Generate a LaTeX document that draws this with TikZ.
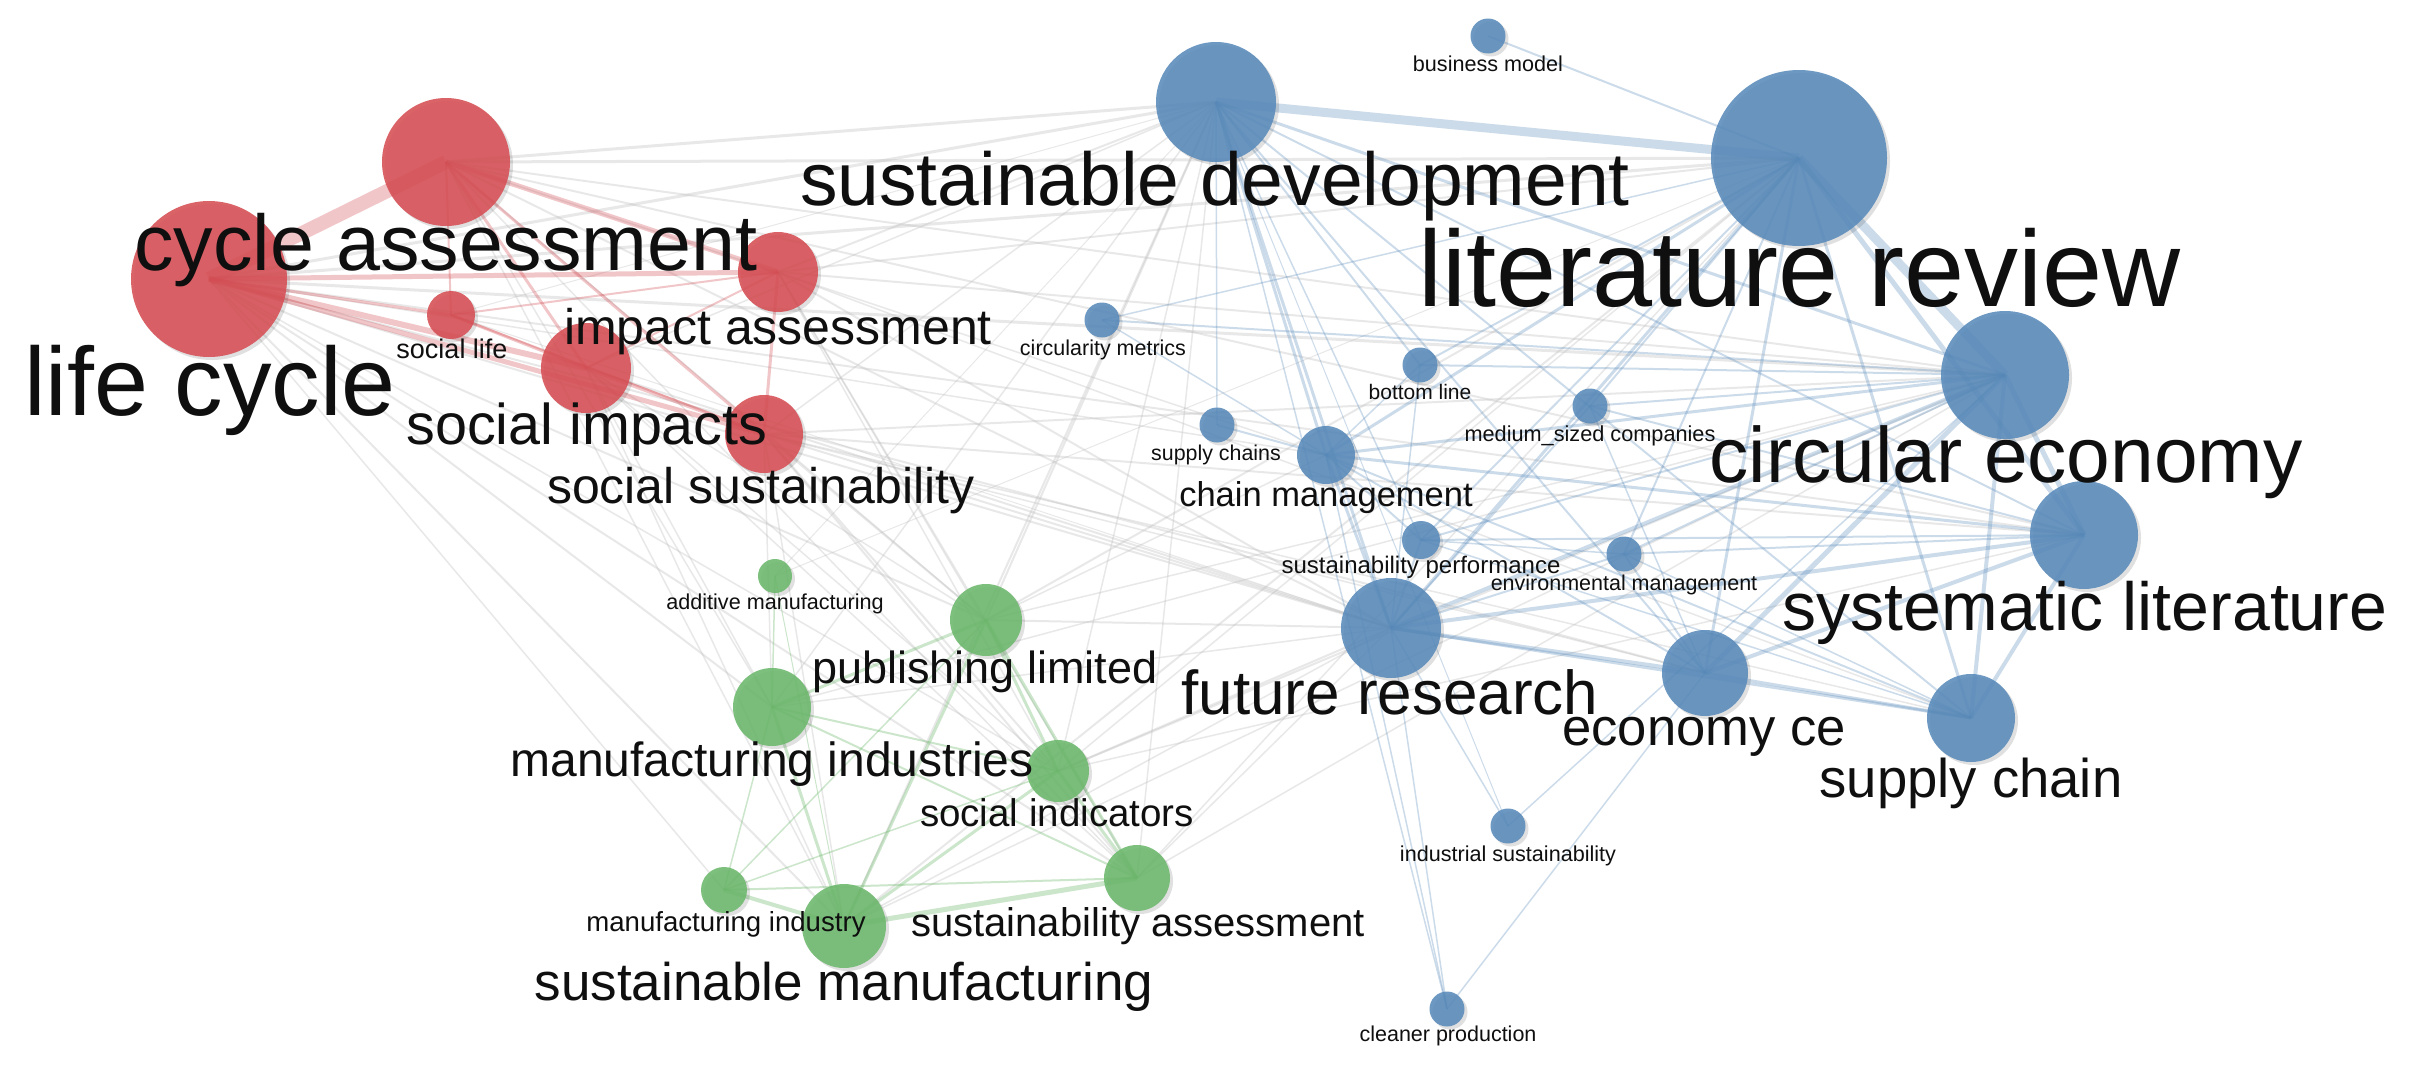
\documentclass[tikz,border=0pt]{standalone}
\usepackage{fontspec}
\setmainfont{Liberation Sans}
\usetikzlibrary{shadows}
\definecolor{cred}{RGB}{214,78,84}
\definecolor{cblue}{RGB}{88,138,186}
\definecolor{cgreen}{RGB}{108,184,108}
\definecolor{cgray}{RGB}{190,190,190}
\definecolor{ctext}{RGB}{15,15,15}
\newcommand{\lbl}[4]{\node[lab, font=\fontsize{#3}{#3}\selectfont] (#1) at #2 {#4};}
\begin{document}
\begin{tikzpicture}[x=1pt,y=-1pt,
  bub/.style={circle, inner sep=0pt, draw=none, fill opacity=0.88,
     drop shadow={fill=black, opacity=0.12, shadow xshift=3pt, shadow yshift=-3pt}},
  rb/.style={bub, fill=cred, minimum size=#1},
  bb/.style={bub, fill=cblue, minimum size=#1},
  gb/.style={bub, fill=cgreen, minimum size=#1},
  lab/.style={anchor=base, text=ctext, inner sep=0pt},
  ge/.style={draw=cgray, draw opacity=0.35, line width=#1},
  ge/.default=2pt,
  re/.style={draw=cred, draw opacity=0.32, line width=#1},
  re/.default=3pt,
  be/.style={draw=cblue, draw opacity=0.30, line width=#1},
  be/.default=2pt,
  gre/.style={draw=cgreen, draw opacity=0.35, line width=#1},
  gre/.default=2pt]
\fill[white] (0,0) rectangle (2417,1071);
\useasboundingbox (0,0) rectangle (2417,1071);
% ---------- positions ----------
\coordinate (lc) at (209,279);
\coordinate (ca) at (446,162);
\coordinate (sl) at (451,315);
\coordinate (ia) at (778,272);
\coordinate (si) at (586,368);
\coordinate (ss) at (764,434);
\coordinate (sd) at (1216,102);
\coordinate (bm) at (1488,36);
\coordinate (lr) at (1799,158);
\coordinate (cmet) at (1102,320);
\coordinate (bl) at (1420,365);
\coordinate (med) at (1590,406);
\coordinate (sc2) at (1217,425);
\coordinate (cm) at (1326,455);
\coordinate (sp) at (1421,540);
\coordinate (em) at (1624,554);
\coordinate (fr) at (1391,628);
\coordinate (ecce) at (1705,673);
\coordinate (scn) at (1971,718);
\coordinate (ce) at (2005,375);
\coordinate (sys) at (2084,535);
\coordinate (is) at (1508,826);
\coordinate (cp) at (1447,1009);
\coordinate (am) at (775,576);
\coordinate (pl) at (986,620);
\coordinate (mi) at (772,707);
\coordinate (sind) at (1058,771);
\coordinate (sa) at (1137,878);
\coordinate (mind) at (724,890);
\coordinate (sm) at (844,926);
% ---------- gray (between clusters) ----------
\foreach \a/\b/\w in {ca/sd/3, ca/lr/3, ca/ce/2, ca/fr/2, ca/sys/2, ca/cm/1.5, ca/pl/1.5, ca/sm/1.5, ca/mi/1.5, ca/sa/1.5,
  lc/sd/3, lc/lr/3, lc/ce/3, lc/fr/2, lc/sys/2, lc/ecce/2, lc/pl/2, lc/mi/2, lc/sm/2, lc/sa/2, lc/sind/1.5, lc/mind/1.5, lc/cm/1.5,
  ia/sd/2, ia/lr/2, ia/ce/2, ia/fr/2, ia/pl/1.5, ia/sa/1.5, ia/sind/1.5, ia/scn/1.5,
  si/sd/1.5, si/fr/2, si/sind/1.5, si/sa/1.5, si/mi/1.5, si/sm/1.5, si/pl/1.5,
  ss/sd/1.5, ss/fr/2, ss/ce/2, ss/sys/2, ss/pl/2, ss/sind/2, ss/sa/2, ss/mi/1.5, ss/sm/1.5, ss/ecce/1.5, ss/scn/1.5,
  sl/sd/1, sl/fr/1,
  pl/sd/2, pl/lr/2, pl/fr/2, pl/ce/1.5, pl/cm/1.5,
  mi/sd/1.5, mi/fr/1.5, mi/ce/1.5,
  sind/fr/2, sind/ce/2, sind/sys/1.5, sind/lr/1.5, sind/sd/1.5,
  sa/fr/1.5, sa/sd/1.5, sa/ce/1.5, sa/lr/1.5,
  sm/sd/2, sm/lr/2, sm/ce/1.5, sm/fr/1.5,
  am/sd/1, am/lr/1}
  {\draw[ge=\w pt] (\a) -- (\b);}
% ---------- blue ----------
\foreach \a/\b/\w in {sd/lr/9, lr/ce/9, lr/sys/5, ce/sys/5, sd/ce/3, sd/fr/3, sd/cm/3, sd/bl/2, sd/scn/2, sd/sys/2, sd/ecce/2, sd/cp/1.5, sd/is/1, sd/sp/1.5, sd/sc2/1.5,
  lr/fr/3, lr/ecce/3, lr/scn/3, lr/cm/3, lr/bm/2, lr/med/2, lr/sp/2, lr/bl/2, lr/cmet/1.5, lr/em/2,
  ce/fr/4, ce/ecce/5, ce/scn/4, ce/cm/3, ce/sp/2, ce/em/2, ce/med/2, ce/bl/2, ce/cmet/2, ce/is/1.5,
  sys/fr/4, sys/ecce/4, sys/scn/4, sys/cm/3, sys/sp/2, sys/em/2, sys/med/2,
  fr/ecce/4, fr/scn/3, fr/cm/3, fr/sp/2, fr/em/2, fr/is/1.5, fr/cp/1.5, fr/med/2, fr/bl/1.5,
  ecce/scn/3, ecce/cm/2, ecce/em/2, ecce/cp/1.5, ecce/med/1.5,
  scn/cm/2, scn/em/1.5, scn/sp/1.5,
  cm/sc2/2, cm/sp/2, cm/cmet/1.5, cm/bl/1.5, cm/cp/1.5, sp/em/1.5}
  {\draw[be=\w pt] (\a) -- (\b);}
% ---------- red ----------
\foreach \a/\b/\w in {lc/ca/14, lc/ia/5, lc/sl/3, lc/si/6, lc/ss/5, ca/ia/5, ca/si/3, ca/ss/3, ca/sl/2,
  sl/ia/2, sl/si/3, si/ia/2, ia/ss/3, si/ss/4, sl/ss/2}
  {\draw[re=\w pt] (\a) -- (\b);}
% ---------- green ----------
\foreach \a/\b/\w in {pl/mi/3, pl/sind/3, pl/sa/3, pl/sm/3, pl/mind/1.5,
  mi/sind/2, mi/sm/3, mi/am/1.5, mi/mind/1.5, mi/sa/2,
  sind/sa/3, sind/sm/3, sind/mind/1.5, sa/sm/5, mind/sm/4, mind/sa/2, am/sm/1}
  {\draw[gre=\w pt] (\a) -- (\b);}
% ---------- bubbles ----------
\node[rb=156pt] (lcB) at (lc) {};
\node[rb=128pt] (caB) at (ca) {};
\node[rb=48pt]  (slB) at (sl) {};
\node[rb=80pt]  (iaB) at (ia) {};
\node[rb=90pt]  (siB) at (si) {};
\node[rb=78pt]  (ssB) at (ss) {};
\node[bb=120pt] (sdB) at (sd) {};
\node[bb=35pt]  (bmB) at (bm) {};
\node[bb=176pt] (lrB) at (lr) {};
\node[bb=35pt]  (cmetB) at (cmet) {};
\node[bb=35pt]  (blB) at (bl) {};
\node[bb=35pt]  (medB) at (med) {};
\node[bb=35pt]  (sc2B) at (sc2) {};
\node[bb=58pt]  (cmB) at (cm) {};
\node[bb=38pt]  (spB) at (sp) {};
\node[bb=35pt]  (emB) at (em) {};
\node[bb=100pt] (frB) at (fr) {};
\node[bb=86pt]  (ecceB) at (ecce) {};
\node[bb=88pt]  (scnB) at (scn) {};
\node[bb=128pt] (ceB) at (ce) {};
\node[bb=108pt] (sysB) at (sys) {};
\node[bb=35pt]  (isB) at (is) {};
\node[bb=35pt]  (cpB) at (cp) {};
\node[gb=34pt]  (amB) at (am) {};
\node[gb=72pt]  (plB) at (pl) {};
\node[gb=78pt]  (miB) at (mi) {};
\node[gb=62pt]  (sindB) at (sind) {};
\node[gb=66pt]  (saB) at (sa) {};
\node[gb=46pt]  (mindB) at (mind) {};
\node[gb=84pt]  (smB) at (sm) {};
% ---------- labels ----------
\lbl{lcL}{(210,415)}{97}{life cycle}
\lbl{caL}{(446,270)}{79}{cycle assessment}
\lbl{slL}{(452,358)}{27}{social life}
\lbl{iaL}{(778,344)}{50}{impact assessment}
\lbl{siL}{(587,444)}{57.5}{social impacts}
\lbl{ssL}{(761,503)}{50}{social sustainability}
\lbl{sdL}{(1215,205)}{75}{sustainable development}
\lbl{bmL}{(1488,71)}{21.6}{business model}
\lbl{lrL}{(1800,306)}{108}{literature review}
\lbl{cmetL}{(1103,355)}{21.5}{circularity metrics}
\lbl{blL}{(1420,399)}{21}{bottom line}
\lbl{medL}{(1590,441)}{21.7}{medium\_sized companies}
\lbl{sc2L}{(1216,460)}{21.4}{supply chains}
\lbl{cmL}{(1326,506)}{34.5}{chain management}
\lbl{spL}{(1421,573)}{24}{sustainability performance}
\lbl{emL}{(1624,590)}{21.5}{environmental management}
\lbl{frL}{(1390,714)}{62}{future research}
\lbl{ecceL}{(1704,745)}{52.6}{economy ce}
\lbl{scnL}{(1971,797)}{54.5}{supply chain}
\lbl{ceL}{(2006,482)}{78.5}{circular economy}
\lbl{sysL}{(2085,630)}{68}{systematic literature}
\lbl{isL}{(1508,861)}{21.6}{industrial sustainability}
\lbl{cpL}{(1448,1041)}{21.5}{cleaner production}
\lbl{amL}{(775,609)}{21.6}{additive manufacturing}
\lbl{plL}{(985,683)}{45}{publishing limited}
\lbl{miL}{(772,776)}{48}{manufacturing industries}
\lbl{sindL}{(1057,826)}{38.5}{social indicators}
\lbl{saL}{(1138,936)}{40}{sustainability assessment}
\lbl{mindL}{(726,931)}{27.6}{manufacturing industry}
\lbl{smL}{(844,1000)}{53}{sustainable manufacturing}
\end{tikzpicture}
\end{document}
